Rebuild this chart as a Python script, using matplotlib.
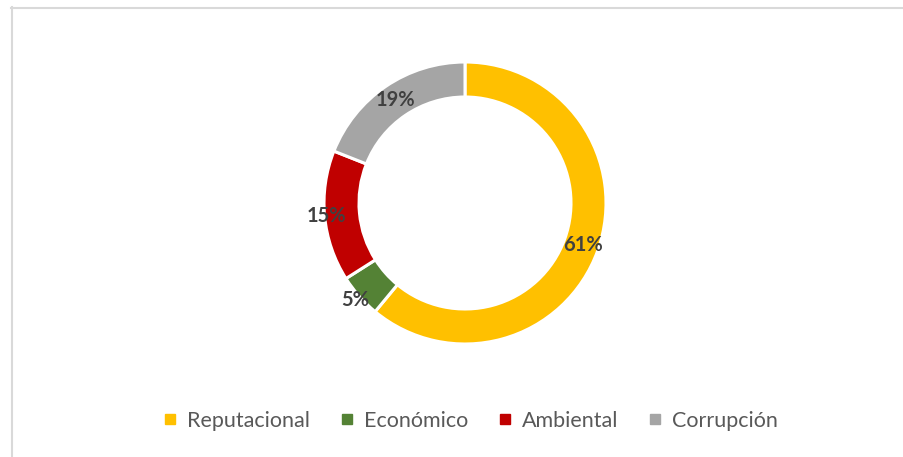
import matplotlib.pyplot as plt
from matplotlib.lines import Line2D
import numpy as np

categorias = ['Reputacional', 'Económico', 'Ambiental', 'Corrupción']
valores = [61, 5, 15, 19]
colores = ['#FFC000', '#548235', '#C00000', '#A5A5A5']
etiquetas = ['61%', '5%', '15%', '19%']
# distancia relativa de cada etiqueta al centro (Excel mueve algunas)
radio_etiqueta = [0.887, 1.04, 0.99, 0.88]

W, H = 904, 457
fig = plt.figure(figsize=(W / 100, H / 100), dpi=100)
ax = fig.add_axes([0, 0, 1, 1])

cx, cy, r = 465, H - 203, 141

wedges, _ = ax.pie(valores, colors=colores, startangle=90, counterclock=False,
                   center=(cx, cy), radius=r, frame=True,
                   wedgeprops=dict(width=35, edgecolor='white', linewidth=2.2))
ax.set_xlim(0, W)
ax.set_ylim(0, H)
ax.set_aspect('auto')
ax.axis('off')

for w, txt, k in zip(wedges, etiquetas, radio_etiqueta):
    ang = np.deg2rad((w.theta1 + w.theta2) / 2)
    x = cx + r * k * np.cos(ang)
    y = cy + r * k * np.sin(ang)
    ax.text(x, y, txt, ha='center', va='center', fontsize=14.5, fontweight='bold',
            color='#404040', family='Lato')

# borde (solo arriba e izquierda visibles)
fig.add_artist(Line2D([11 / W, 1], [1 - 7.5 / H] * 2, color='#D9D9D9', lw=1.5))
fig.add_artist(Line2D([11.5 / W] * 2, [0, 1 - 7 / H], color='#D9D9D9', lw=1.5))

handles = [Line2D([], [], marker='s', ls='none', markersize=7.5, color=c) for c in colores]
fig.legend(handles, categorias, loc='center', bbox_to_anchor=(469 / W, 1 - 421 / H),
           ncol=4, frameon=False, prop={'family': 'Lato', 'size': 15.5},
           labelcolor='#595959', handletextpad=0.35, columnspacing=1.25, handlelength=0.9)

plt.savefig('out.png', dpi=100)
plt.close()
